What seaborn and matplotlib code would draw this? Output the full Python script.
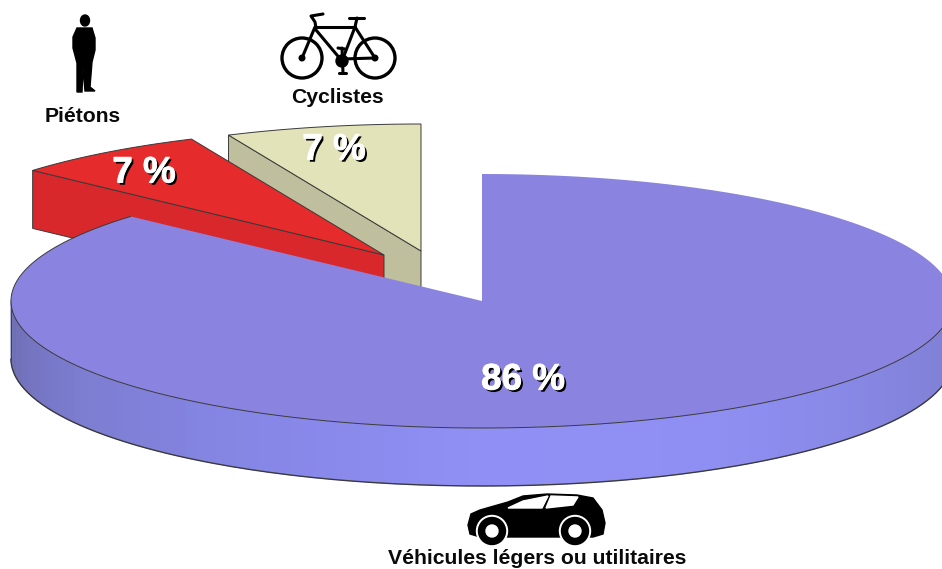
"""
Exploded 3D pie of road victims by category.
"""
import numpy as np
import matplotlib
matplotlib.use("Agg")
import matplotlib.pyplot as plt
import matplotlib.patheffects as pe
from matplotlib.patches import Circle, Ellipse, Polygon
import seaborn as sns

categories = ["Véhicules légers ou utilitaires", "Piétons", "Cyclistes"]
shares = [86.6, 6.7, 6.7]
share_labels = ["86 %", "7 %", "7 %"]

RX, RY, DEPTH = 471, 127, 58
EDGE = "#3a3a3a"


def rim(cx, cy, a0, a1, n=200):
    """Points on the ellipse, angles in degrees clockwise from the top."""
    t = np.radians(np.linspace(a0, a1, n))
    return np.column_stack([cx + RX * np.sin(t), cy - RY * np.cos(t)])


def face(ax, pts, color, z, lw=0.7):
    ax.add_patch(Polygon(pts, closed=True, facecolor=color, edgecolor=EDGE, linewidth=lw, zorder=z))


def draw_slice(ax, cx, cy, a0, a1, top, side, z):
    """Top face plus the radial wall facing the viewer."""
    outer = rim(cx, cy, a0, a1)
    end = outer[0]
    wall = [(cx, cy), end, (end[0], end[1] + DEPTH), (cx, cy + DEPTH)]
    face(ax, wall, side, z)
    face(ax, np.vstack([[(cx, cy)], outer]), top, z + 0.1)


def draw_person(ax):
    body = [(77, 28), (92, 28), (95, 38), (95, 50), (92, 62), (90, 87), (95, 91), (85, 91),
            (83, 68), (82, 92), (77, 92), (77, 63), (73, 48), (73, 37)]
    ax.add_patch(Polygon(body, closed=True, color="black", zorder=5))
    ax.add_patch(Ellipse((85, 20.5), 9, 11, color="black", zorder=5))


def draw_bike(ax):
    for x in (302, 375):
        ax.add_patch(Circle((x, 58), 20, fill=False, edgecolor="black", linewidth=2.4, zorder=5))
        ax.add_patch(Circle((x, 58), 2.8, color="black", zorder=5))
    ax.add_patch(Circle((342, 61), 6, color="black", zorder=5))
    tubes = [[(316, 27), (355, 27)], [(316, 30), (342, 61)], [(355, 27), (342, 61)],
             [(342, 59), (375, 58)], [(355, 27), (375, 58)], [(315, 27), (302, 58)],
             [(316, 28), (315, 22), (311, 16), (323, 14)], [(349, 18), (364, 18)],
             [(357, 18), (355, 27)], [(342, 48), (343, 73)], [(339, 73), (346, 73)],
             [(338, 48), (345, 49)]]
    for seg in tubes:
        xs, ys = zip(*seg)
        ax.plot(xs, ys, color="black", lw=2.2, solid_capstyle="round", zorder=5)


def draw_car(ax):
    body = [(468, 525), (471, 514), (480, 510), (508, 502), (523, 496), (547, 494), (577, 495),
            (593, 498), (602, 510), (605, 523), (603, 534), (593, 537), (480, 537), (470, 534)]
    ax.add_patch(Polygon(body, closed=True, color="black", zorder=5))
    windows = [[(508, 508), (523, 501), (548, 496), (542, 508)],
               [(546, 508), (551, 496), (578, 497), (573, 505)]]
    for w in windows:
        ax.add_patch(Polygon(w, closed=True, color="white", zorder=6))
    for x in (492, 575):
        ax.add_patch(Circle((x, 531), 15.5, color="white", zorder=6))
        ax.add_patch(Circle((x, 531), 13.5, color="black", zorder=7))
        ax.add_patch(Circle((x, 531), 6, color="white", zorder=8))


sns.set_theme(style="white")
plt.rcParams["font.family"] = ["Liberation Sans", "DejaVu Sans"]

fig = plt.figure(figsize=(9.42, 5.69), dpi=100)
ax = fig.add_axes([0, 0, 1, 1])
ax.set_xlim(0, 942)
ax.set_ylim(569, 0)
ax.axis("off")

# angles follow the shares, clockwise from twelve o'clock
sweeps = [s / sum(shares) * 360 for s in shares]
veh_end = sweeps[0]
ped_end = veh_end + sweeps[1]

# cyclists
draw_slice(ax, 421, 251, 360 - sweeps[2], 360, "#e3e3b9", "#bfbf9d", 1)
# pedestrians
draw_slice(ax, 384, 255, veh_end, ped_end, "#e52b2c", "#d8282c", 2)

# vehicles: shaded outer wall in small strips, then the top
strip_angles = np.linspace(90, 270, 121)
shades = sns.blend_palette(["#7d7dcf", "#8585e0", "#8f8ff3", "#8f8ff5", "#8686e6", "#7c7cd0", "#6c6cb0"],
                           n_colors=len(strip_angles) - 1)
for i, color in enumerate(shades):
    arc = rim(482, 301, strip_angles[i], strip_angles[i + 1] + 0.3, n=6)
    low = arc[::-1] + [0, DEPTH]
    ax.add_patch(Polygon(np.vstack([arc, low]), closed=True, facecolor=color, edgecolor=color,
                         linewidth=0.4, zorder=3))
outline = rim(482, 301, 90, 270)
ax.plot(outline[:, 0], outline[:, 1] + DEPTH, color=EDGE, lw=1.0, zorder=3.1)
ax.plot([11, 11], [301, 301 + DEPTH], color=EDGE, lw=0.6, zorder=3.1)

top = np.vstack([[(482, 301)], rim(482, 301, 0, veh_end)])
ax.add_patch(Polygon(top, closed=True, facecolor="#8a84e0", edgecolor="none", zorder=3.2))
front = rim(482, 301, 90, veh_end)
ax.plot(front[:, 0], front[:, 1], color=EDGE, lw=0.7, zorder=3.3)

# percentages
shadow = [pe.SimplePatchShadow(offset=(1.6, -1.6), shadow_rgbFace="black", alpha=1.0),
          pe.Stroke(linewidth=0.6, foreground="white"), pe.Normal()]
for (x, y), label in zip([(523, 380), (144, 173), (334, 150)], share_labels):
    ax.text(x, y, label, color="white", fontsize=26.5, fontweight="bold", ha="center", va="center",
            path_effects=shadow, zorder=9)

# category captions
for (x, y), name in zip([(537, 558), (83, 116), (337, 97)], categories):
    ax.text(x, y, name, color="#0a0a0a", fontsize=15.2, fontweight="bold", ha="center", va="center", zorder=9)

draw_person(ax)
draw_bike(ax)
draw_car(ax)

fig.savefig("out.png", dpi=100)
